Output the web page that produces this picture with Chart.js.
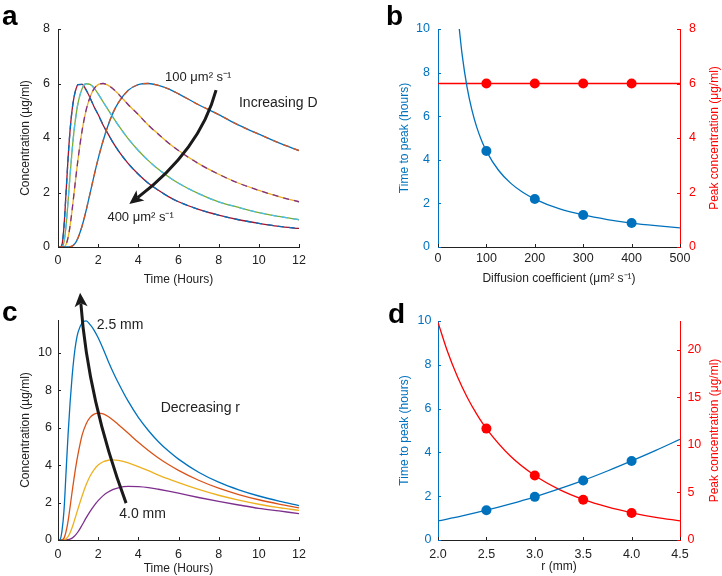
<!DOCTYPE html>
<html>
<head>
<meta charset="utf-8">
<script src="https://cdn.jsdelivr.net/npm/chart.js@4.4.0/dist/chart.umd.min.js"></script>
<style>
  body { margin: 0; background: #fff; }
  #wrap { position: relative; width: 722px; height: 576px; overflow: hidden; }
  canvas { position: absolute; }
</style>
</head>
<body>
<div id="wrap">
  <canvas id="ca" width="361" height="288" style="left:0;top:0"></canvas>
  <canvas id="cb" width="361" height="288" style="left:361px;top:0"></canvas>
  <canvas id="cc" width="361" height="288" style="left:0;top:288px"></canvas>
  <canvas id="cd" width="361" height="288" style="left:361px;top:288px"></canvas>
</div>
<script>
// ---- data ----

// panels a and c share the time grid (hours)
const timeH = [0, 0.1, 0.2, 0.3, 0.4, 0.5, 0.6, 0.7, 0.8, 0.9, 1.0, 1.2, 1.4, 1.6, 1.8, 2.0, 2.25, 2.5, 2.75, 3, 3.5, 4, 4.5, 5, 5.5, 6, 7, 8, 9, 10, 11, 12];
const timeTicks = [0, 2, 4, 6, 8, 10, 12];

// panel a: concentration (ug/ml) for D = 100..400 um2/s
const concD100 = [0, 0, 0, 0, 0, 0, 0.01, 0.03, 0.09, 0.19, 0.34, 0.77, 1.34, 1.98, 2.63, 3.24, 3.91, 4.48, 4.94, 5.29, 5.75, 5.96, 6.00, 5.93, 5.80, 5.62, 5.22, 4.86, 4.47, 4.14, 3.82, 3.54];
const concD200 = [0, 0, 0, 0.01, 0.09, 0.34, 0.77, 1.34, 1.98, 2.63, 3.24, 4.27, 5.02, 5.51, 5.81, 5.96, 6.00, 5.93, 5.80, 5.62, 5.22, 4.86, 4.47, 4.14, 3.82, 3.54, 3.06, 2.67, 2.34, 2.08, 1.85, 1.66];
const concD300 = [0, 0, 0.01, 0.19, 0.77, 1.66, 2.63, 3.52, 4.27, 4.85, 5.29, 5.81, 5.99, 5.97, 5.83, 5.62, 5.32, 5.03, 4.75, 4.47, 3.97, 3.54, 3.17, 2.85, 2.58, 2.34, 1.96, 1.66, 1.45, 1.26, 1.12, 1.00];
const concD400 = [0, 0, 0.09, 0.77, 1.98, 3.24, 4.27, 5.02, 5.51, 5.81, 5.96, 5.97, 5.76, 5.47, 5.14, 4.86, 4.47, 4.14, 3.82, 3.54, 3.06, 2.67, 2.34, 2.08, 1.85, 1.66, 1.38, 1.17, 1.00, 0.87, 0.76, 0.68];
const concATicks = [0, 2, 4, 6, 8];

// panel c: concentration (ug/ml) for r = 2.5..4.0 mm
const concR25 = [0, 0.02, 0.5, 1.6, 3.6, 5.6, 7.3, 8.7, 9.8, 10.6, 11.1, 11.6, 11.7, 11.5, 11.2, 10.8, 10.2, 9.55, 8.95, 8.4, 7.4, 6.55, 5.85, 5.25, 4.75, 4.32, 3.62, 3.09, 2.68, 2.35, 2.08, 1.84];
const concR30 = [0, 0, 0.01, 0.1, 0.45, 1.0, 1.75, 2.55, 3.3, 4.0, 4.6, 5.6, 6.2, 6.55, 6.72, 6.78, 6.74, 6.6, 6.4, 6.17, 5.7, 5.22, 4.78, 4.38, 4.03, 3.72, 3.19, 2.77, 2.43, 2.15, 1.92, 1.72];
const concR35 = [0, 0, 0, 0.01, 0.06, 0.18, 0.38, 0.65, 0.98, 1.33, 1.68, 2.35, 2.95, 3.42, 3.76, 4.0, 4.18, 4.26, 4.28, 4.25, 4.12, 3.92, 3.7, 3.47, 3.26, 3.06, 2.70, 2.39, 2.13, 1.91, 1.73, 1.58];
const concR40 = [0, 0, 0, 0, 0, 0.02, 0.05, 0.1, 0.19, 0.3, 0.44, 0.8, 1.18, 1.53, 1.84, 2.1, 2.37, 2.56, 2.7, 2.79, 2.86, 2.85, 2.8, 2.71, 2.61, 2.5, 2.27, 2.06, 1.87, 1.69, 1.55, 1.41];
const concCTicks = [0, 2, 4, 6, 8, 10];

// panel b: time to peak / peak concentration vs diffusion coefficient
const diffFit = [44, 50, 60, 70, 80, 90, 100, 125, 150, 175, 200, 250, 300, 350, 400, 450, 500];
const peakTimeFitD = [10.0, 8.8, 7.33, 6.29, 5.5, 4.89, 4.4, 3.52, 2.93, 2.51, 2.2, 1.76, 1.47, 1.26, 1.1, 0.98, 0.88];
const diffPts = [100, 200, 300, 400];
const peakTimePtsD = [4.4, 2.2, 1.47, 1.1];
const diffLine = [0, 500];
const peakConcLineD = [6, 6];
const peakConcPtsD = [6, 6, 6, 6];
const diffTicks = [0, 100, 200, 300, 400, 500];
const timeToPeakTicks = [0, 2, 4, 6, 8, 10];
const peakConcTicksB = [0, 2, 4, 6, 8];

// panel d: time to peak / peak concentration vs radius
const radFitT = [2.0, 2.25, 2.5, 2.75, 3.0, 3.25, 3.5, 3.75, 4.0, 4.25, 4.5];
const peakTimeFitR = [0.87, 1.1, 1.36, 1.65, 1.97, 2.33, 2.72, 3.15, 3.61, 4.09, 4.6];
const radFitC = [2.0, 2.1, 2.2, 2.3, 2.4, 2.5, 2.75, 3.0, 3.25, 3.5, 3.75, 4.0, 4.25, 4.5];
const peakConcFitR = [22.85, 19.74, 17.17, 15.02, 13.22, 11.7, 8.79, 6.77, 5.32, 4.26, 3.47, 2.86, 2.38, 2.01];
const radPts = [2.5, 3.0, 3.5, 4.0];
const peakTimePtsR = [1.36, 1.97, 2.72, 3.61];
const peakConcPtsR = [11.7, 6.77, 4.23, 2.83];
const radTicks = [2.0, 2.5, 3.0, 3.5, 4.0, 4.5];
const peakConcTicksD = [0, 5, 10, 15, 20];

// ---- styling ----
const ink = '#222222';
const blue = '#0072BD', orange = '#D95319', yellow = '#EDB120', purple = '#7E2F8E';
const green = '#77AC30', cyan = '#4DBEEE', darkRed = '#A2142F', red = '#FF0000';

Chart.defaults.font.family = "'Liberation Sans', Arial, sans-serif";
Chart.defaults.font.size = 12;
Chart.defaults.color = ink;

const xy = (xs, ys) => xs.map((x, i) => ({x: x, y: ys[i]}));

// build one linear axis with fixed ticks and a fixed thickness
const axis = (o) => ({
  type: 'linear',
  position: o.pos,
  min: o.min,
  max: o.max,
  afterBuildTicks: (s) => { s.ticks = o.ticks.map(v => ({value: v})); },
  afterFit: (s) => { if (s.isHorizontal()) s.height = o.size; else s.width = o.size; },
  grid: {display: false, drawTicks: false},
  border: {display: true, color: o.color || ink, width: 1},
  ticks: {color: o.color || ink, padding: o.pad, maxRotation: 0, font: {size: 12.5},
          callback: o.fmt || ((v) => String(v))},
  title: o.title ? {display: true, text: o.title, color: o.color || ink, font: {size: 12}, padding: o.tpad}
                 : {display: false}
});

const curve = (data, color, extra) => Object.assign({
  data: data, borderColor: color, backgroundColor: color, borderWidth: 1.3,
  pointRadius: 0, fill: false, cubicInterpolationMode: 'monotone', order: 1
}, extra || {});

const dots = (data, color, axisId) => ({
  data: data, yAxisID: axisId, showLine: false, pointRadius: 5, pointBorderWidth: 0,
  pointBackgroundColor: color, borderColor: color, order: 0
});

// arrow: quadratic shaft with a notched head at the end point
const drawArrow = (ctx, p0, p1, p2) => {
  const ang = Math.atan2(p2.y - p1.y, p2.x - p1.x);
  const c = Math.cos(ang), s = Math.sin(ang);
  const L = 14, W = 6.5;
  const base = {x: p2.x - 0.75 * L * c, y: p2.y - 0.75 * L * s};
  ctx.lineWidth = 3;
  ctx.beginPath();
  ctx.moveTo(p0.x, p0.y);
  ctx.quadraticCurveTo(p1.x, p1.y, base.x, base.y);
  ctx.stroke();
  ctx.beginPath();
  ctx.moveTo(p2.x, p2.y);
  ctx.lineTo(p2.x - L * c + W * s, p2.y - L * s - W * c);
  ctx.lineTo(base.x, base.y);
  ctx.lineTo(p2.x - L * c - W * s, p2.y - L * s + W * c);
  ctx.closePath();
  ctx.fill();
};

// inward ticks, panel letter, annotations, right-hand title
const extras = {
  id: 'extras',
  afterDraw(chart, args, o) {
    const ctx = chart.ctx;
    const area = chart.chartArea;
    ctx.save();
    Object.values(chart.scales).forEach((s) => {
      ctx.strokeStyle = s.options.border.color;
      ctx.lineWidth = 1;
      ctx.beginPath();
      s.ticks.forEach((t) => {
        const p = Math.round(s.getPixelForValue(t.value)) + 0.5;
        if (s.isHorizontal()) { ctx.moveTo(p, area.bottom); ctx.lineTo(p, area.bottom - 3); }
        else if (s.position === 'left') { ctx.moveTo(area.left, p); ctx.lineTo(area.left + 3, p); }
        else { ctx.moveTo(area.right, p); ctx.lineTo(area.right - 3, p); }
      });
      ctx.stroke();
    });

    ctx.fillStyle = '#000';
    ctx.font = "bold 28px 'Liberation Sans', Arial, sans-serif";
    ctx.textBaseline = 'alphabetic';
    ctx.textAlign = 'left';
    ctx.fillText(o.letter, o.letterX, o.letterY);

    const xs = chart.scales.x, ys = chart.scales.y;
    const px = (p) => ({x: xs.getPixelForValue(p[0]), y: ys.getPixelForValue(p[1])});
    (o.arrows || []).forEach((a) => {
      ctx.strokeStyle = '#1a1a1a';
      ctx.fillStyle = '#1a1a1a';
      drawArrow(ctx, px(a[0]), px(a[1]), px(a[2]));
    });
    ctx.fillStyle = ink;
    ctx.textBaseline = 'middle';
    (o.notes || []).forEach((n) => {
      const p = px(n.at);
      ctx.font = n.size + "px 'Liberation Sans', Arial, sans-serif";
      ctx.fillText(n.text, p.x, p.y);
    });

    if (o.rightTitle) {
      ctx.save();
      ctx.translate(o.rightTitleX, (area.top + area.bottom) / 2);
      ctx.rotate(-Math.PI / 2);
      ctx.textAlign = 'center';
      ctx.fillStyle = red;
      ctx.font = "12px 'Liberation Sans', Arial, sans-serif";
      ctx.fillText(o.rightTitle, 0, 0);
      ctx.restore();
    }
    ctx.restore();
  }
};

const baseOpts = (pad, scales, extra) => ({
  responsive: false,
  animation: false,
  events: [],
  layout: {padding: pad},
  scales: scales,
  plugins: {legend: {display: false}, tooltip: {enabled: false}, extras: extra}
});

// ---- panel a ----
const dPairs = [
  [concD100, blue, orange],
  [concD200, yellow, purple],
  [concD300, green, cyan],
  [concD400, darkRed, blue]
];
const dsA = [];
dPairs.forEach((p) => {
  dsA.push(curve(xy(timeH, p[0]), p[1], {order: 1}));
  dsA.push(curve(xy(timeH, p[0]), p[2], {order: 0, borderDash: [6, 5]}));
});

new Chart(document.getElementById('ca'), {
  type: 'line',
  data: {datasets: dsA},
  options: baseOpts({left: 0, top: 29, right: 62, bottom: 0}, {
    x: axis({pos: 'bottom', min: 0, max: 12, ticks: timeTicks, size: 41, pad: 5.8,
             title: 'Time (Hours)', tpad: {top: 0, bottom: 1}}),
    y: axis({pos: 'left', min: 0, max: 8, ticks: concATicks, size: 58, pad: 8,
             title: 'Concentration (\u00b5g/ml)', tpad: {top: 18, bottom: 0}})
  }, {
    letter: 'a', letterX: 2, letterY: 25,
    arrows: [[[7.87, 5.76], [7.07, 3.56], [3.55, 1.58]]],
    notes: [
      {text: '100 \u03bcm\u00b2 s\u207b\u00b9', at: [5.33, 6.23], size: 13},
      {text: 'Increasing D', at: [9.01, 5.27], size: 14},
      {text: '400 \u03bcm\u00b2 s\u207b\u00b9', at: [2.46, 1.09], size: 13}
    ]
  }),
  plugins: [extras]
});

// ---- panel b ----
new Chart(document.getElementById('cb'), {
  type: 'line',
  data: {datasets: [
    curve(xy(diffFit, peakTimeFitD), blue, {yAxisID: 'y'}),
    dots(xy(diffPts, peakTimePtsD), blue, 'y'),
    curve(xy(diffLine, peakConcLineD), red, {yAxisID: 'y2', cubicInterpolationMode: 'default', tension: 0}),
    dots(xy(diffPts, peakConcPtsD), red, 'y2')
  ]},
  options: baseOpts({left: 0, top: 29, right: 0, bottom: 0}, {
    x: axis({pos: 'bottom', min: 0, max: 500, ticks: diffTicks, size: 41, pad: 4.5,
             title: 'Diffusion coefficient (\u03bcm\u00b2 s\u207b\u00b9)', tpad: {top: 0, bottom: 2.5}}),
    y: axis({pos: 'left', min: 0, max: 10, ticks: timeToPeakTicks, size: 77, pad: 8, color: blue,
             title: 'Time to peak (hours)', tpad: {top: 36, bottom: 0}}),
    y2: axis({pos: 'right', min: 0, max: 8, ticks: peakConcTicksB, size: 42, pad: 9, color: red})
  }, {
    letter: 'b', letterX: 25, letterY: 25,
    rightTitle: 'Peak concentration (\u03bcg/ml)', rightTitleX: 354
  }),
  plugins: [extras]
});

// ---- panel c ----
new Chart(document.getElementById('cc'), {
  type: 'line',
  data: {datasets: [
    curve(xy(timeH, concR25), blue),
    curve(xy(timeH, concR30), orange),
    curve(xy(timeH, concR35), yellow),
    curve(xy(timeH, concR40), purple)
  ]},
  options: baseOpts({left: 0, top: 32, right: 62, bottom: 0}, {
    x: axis({pos: 'bottom', min: 0, max: 12, ticks: timeTicks, size: 36, pad: 7.5,
             title: 'Time (Hours)', tpad: {top: 0, bottom: 0.5}}),
    y: axis({pos: 'left', min: 0, max: 11.75, ticks: concCTicks, size: 58, pad: 6,
             title: 'Concentration (\u00b5g/ml)', tpad: {top: 18, bottom: 0}})
  }, {
    letter: 'c', letterX: 2, letterY: 33,
    arrows: [[[3.39, 1.97], [1.49, 7.48], [1.10, 13.2]]],
    notes: [
      {text: '2.5 mm', at: [1.93, 11.48], size: 14},
      {text: 'Decreasing r', at: [5.11, 7.02], size: 14},
      {text: '4.0 mm', at: [3.05, 1.39], size: 14}
    ]
  }),
  plugins: [extras]
});

// ---- panel d ----
new Chart(document.getElementById('cd'), {
  type: 'line',
  data: {datasets: [
    curve(xy(radFitT, peakTimeFitR), blue, {yAxisID: 'y'}),
    dots(xy(radPts, peakTimePtsR), blue, 'y'),
    curve(xy(radFitC, peakConcFitR), red, {yAxisID: 'y2'}),
    dots(xy(radPts, peakConcPtsR), red, 'y2')
  ]},
  options: baseOpts({left: 0, top: 33, right: 0, bottom: 0}, {
    x: axis({pos: 'bottom', min: 2, max: 4.5, ticks: radTicks, size: 36, pad: 6.9,
             fmt: (v) => v.toFixed(1), title: 'r (mm)', tpad: {top: 0, bottom: 2}}),
    y: axis({pos: 'left', min: 0, max: 10, ticks: timeToPeakTicks, size: 77, pad: 6.6, color: blue,
             title: 'Time to peak (hours)', tpad: {top: 36, bottom: 0}}),
    y2: axis({pos: 'right', min: 0, max: 23, ticks: peakConcTicksD, size: 42, pad: 7.4, color: red})
  }, {
    letter: 'd', letterX: 27, letterY: 35,
    rightTitle: 'Peak concentration (\u03bcg/ml)', rightTitleX: 354
  }),
  plugins: [extras]
});
</script>
</body>
</html>
